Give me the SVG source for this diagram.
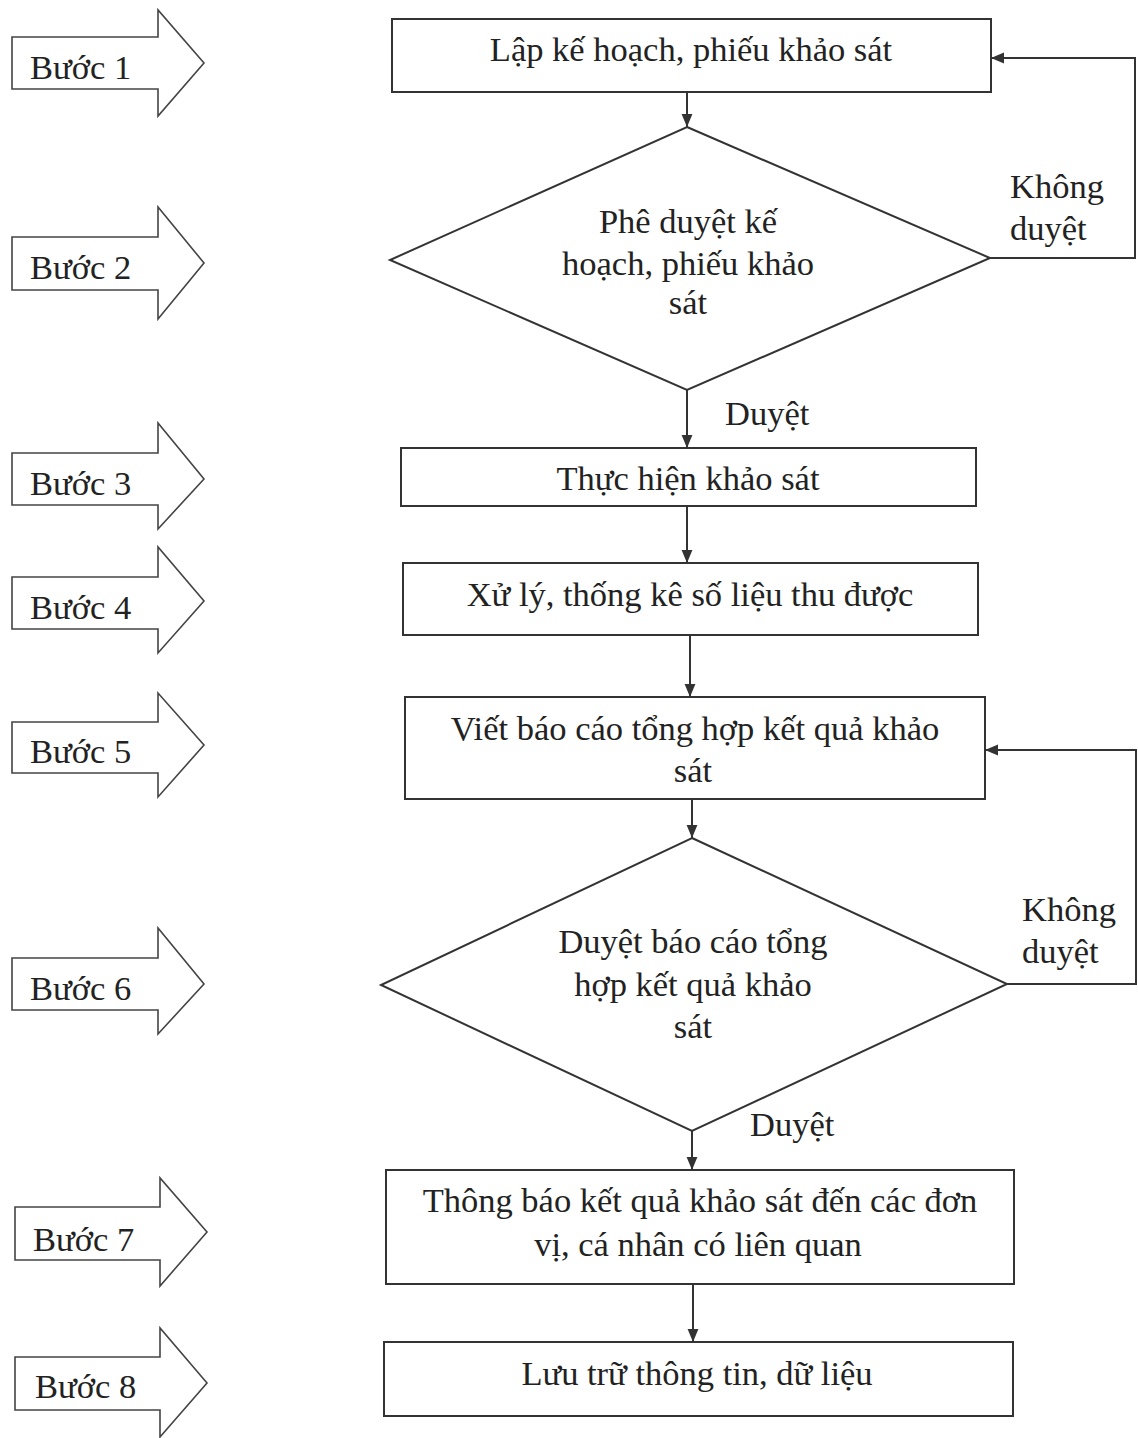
<svg xmlns="http://www.w3.org/2000/svg" width="1138" height="1438" viewBox="0 0 1138 1438">
<defs>
<style>
.box{fill:#fff;stroke:#333;stroke-width:2}
.step{fill:#fff;stroke:#444;stroke-width:1.6}
.t{font-family:"Liberation Serif","Times New Roman",serif;font-size:34.5px;fill:#222}
.c{text-anchor:middle}
.ln{fill:none;stroke:#333;stroke-width:2}
</style>
<marker id="ah" viewBox="0 0 12 12" refX="12" refY="6" markerWidth="13" markerHeight="13" markerUnits="userSpaceOnUse" orient="auto">
<path d="M0,1 L12,6 L0,11 Z" fill="#333"/>
</marker>
</defs>
<rect width="1138" height="1438" fill="#fff"/>

<g id="step1"><polygon class="step" points="12,37 158,37 158,10 204,63 158,116 158,89 12,89"/><text class="t" x="30" y="79">Bước 1</text></g>
<g id="step2"><polygon class="step" points="12,237 158,237 158,207 204,263 158,319 158,290 12,290"/><text class="t" x="30" y="279">Bước 2</text></g>
<g id="step3"><polygon class="step" points="12,453 158,453 158,423 204,479 158,529 158,505 12,505"/><text class="t" x="30" y="495">Bước 3</text></g>
<g id="step4"><polygon class="step" points="12,577 158,577 158,547 204,601 158,653 158,629 12,629"/><text class="t" x="30" y="619">Bước 4</text></g>
<g id="step5"><polygon class="step" points="12,722 158,722 158,693 204,745 158,797 158,773 12,773"/><text class="t" x="30" y="763">Bước 5</text></g>
<g id="step6"><polygon class="step" points="12,958 158,958 158,928 204,984 158,1034 158,1010 12,1010"/><text class="t" x="30" y="1000">Bước 6</text></g>
<g id="step7"><polygon class="step" points="15,1207 160,1207 160,1178 207,1232 160,1286 160,1260 15,1260"/><text class="t" x="33" y="1251">Bước 7</text></g>
<g id="step8"><polygon class="step" points="15,1357 160,1357 160,1328 207,1383 160,1437 160,1410 15,1410"/><text class="t" x="35" y="1398">Bước 8</text></g>

<g id="n1"><rect class="box" x="392" y="19" width="599" height="73"/><text class="t c" x="691" y="61">Lập kế hoạch, phiếu khảo sát</text></g>
<g id="n2"><polygon class="box" points="687,127 990,258 687,390 390,260"/><text class="t c" x="688" y="233">Phê duyệt kế</text><text class="t c" x="688" y="275">hoạch, phiếu khảo</text><text class="t c" x="688" y="314">sát</text></g>
<g id="n3"><rect class="box" x="401" y="448" width="575" height="58"/><text class="t c" x="688" y="490">Thực hiện khảo sát</text></g>
<g id="n4"><rect class="box" x="403" y="563" width="575" height="72"/><text class="t c" x="690" y="606">Xử lý, thống kê số liệu thu được</text></g>
<g id="n5"><rect class="box" x="405" y="697" width="580" height="102"/><text class="t c" x="695" y="740">Viết báo cáo tổng hợp kết quả khảo</text><text class="t c" x="693" y="782">sát</text></g>
<g id="n6"><polygon class="box" points="692,838 1007,984 692,1131 381,985"/><text class="t c" x="693" y="953">Duyệt báo cáo tổng</text><text class="t c" x="693" y="996">hợp kết quả khảo</text><text class="t c" x="693" y="1038">sát</text></g>
<g id="n7"><rect class="box" x="386" y="1170" width="628" height="114"/><text class="t c" x="700" y="1212">Thông báo kết quả khảo sát đến các đơn</text><text class="t c" x="698" y="1256">vị, cá nhân có liên quan</text></g>
<g id="n8"><rect class="box" x="384" y="1342" width="629" height="74"/><text class="t c" x="697" y="1385">Lưu trữ thông tin, dữ liệu</text></g>

<g id="connectors">
<line class="ln" x1="687" y1="92" x2="687" y2="127" marker-end="url(#ah)"/>
<polyline class="ln" points="990,258 1135,258 1135,58 991,58" marker-end="url(#ah)"/>
<line class="ln" x1="687" y1="390" x2="687" y2="448" marker-end="url(#ah)"/>
<line class="ln" x1="687" y1="506" x2="687" y2="563" marker-end="url(#ah)"/>
<line class="ln" x1="690" y1="635" x2="690" y2="697" marker-end="url(#ah)"/>
<line class="ln" x1="692" y1="799" x2="692" y2="838" marker-end="url(#ah)"/>
<polyline class="ln" points="1007,984 1136,984 1136,750 985,750" marker-end="url(#ah)"/>
<line class="ln" x1="692" y1="1131" x2="692" y2="1170" marker-end="url(#ah)"/>
<line class="ln" x1="693" y1="1284" x2="693" y2="1342" marker-end="url(#ah)"/>
</g>
<g id="labels">
<text class="t" x="1010" y="198">Không</text><text class="t" x="1010" y="240">duyệt</text>
<text class="t" x="725" y="425">Duyệt</text>
<text class="t" x="1022" y="921">Không</text><text class="t" x="1022" y="963">duyệt</text>
<text class="t" x="750" y="1136">Duyệt</text>
</g>
</svg>
